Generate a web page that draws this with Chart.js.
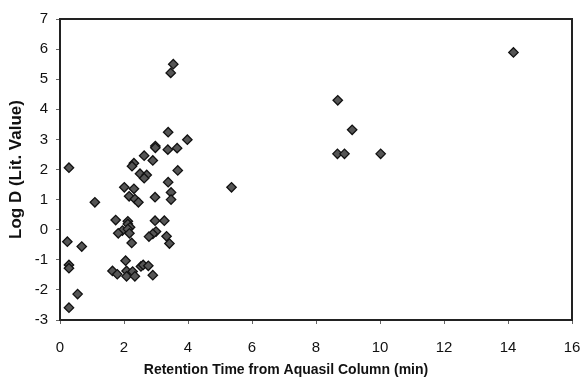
<!DOCTYPE html>
<html>
<head>
<meta charset="utf-8">
<script src="https://cdn.jsdelivr.net/npm/chart.js@4/dist/chart.umd.min.js"></script>
<style>
  body { margin: 0; background: #fff; }
  #wrap { width: 582px; height: 378px; }
</style>
</head>
<body>
<div id="wrap"><canvas id="myChart" width="582" height="378"></canvas></div>
<script>
// retention time (min) vs log D
const retTime = [0.28, 3.54, 3.46, 3.38, 3.98, 2.98, 2.98, 3.37, 3.66, 2.63, 2.90, 2.31, 2.25, 3.68, 2.50,
  2.71, 2.63, 3.38, 2.01, 5.36, 2.31, 3.47, 3.47, 1.09, 2.16, 2.34, 2.45, 2.97, 1.74, 2.12,
  2.12, 2.97, 3.26, 2.19, 1.95, 2.12, 1.82, 2.17, 3.00, 2.90, 2.78, 3.33, 3.42, 2.24, 0.23,
  0.68, 2.05, 0.28, 0.28, 1.64, 1.79, 2.08, 2.08, 2.27, 2.34, 2.53, 2.60, 2.76, 2.90, 0.55,
  0.28, 14.17, 8.68, 9.13, 8.67, 8.89, 10.02]
const logD = [2.06, 5.50, 5.21, 3.24, 2.99, 2.78, 2.72, 2.66, 2.71, 2.46, 2.30, 2.21, 2.11, 1.97, 1.86,
  1.82, 1.71, 1.58, 1.41, 1.41, 1.36, 1.24, 1.00, 0.91, 1.11, 1.02, 0.91, 1.08, 0.32, 0.28,
  0.19, 0.30, 0.30, 0.08, -0.03, 0.02, -0.12, -0.12, -0.06, -0.14, -0.23, -0.22, -0.46, -0.44, -0.40,
  -0.56, -1.03, -1.17, -1.28, -1.37, -1.48, -1.37, -1.55, -1.39, -1.55, -1.22, -1.17, -1.20, -1.51, -2.14,
  -2.59, 5.89, 4.30, 3.32, 2.52, 2.52, 2.52]

const xTitle = "Retention Time from Aquasil Column (min)"
const yTitle = "Log D (Lit. Value)"

const pts = retTime.map((x, i) => ({ x: x, y: logD[i] }))

// box round the plot area
const boxPlugin = {
  id: "box",
  afterDraw(chart) {
    const a = chart.chartArea
    const ctx = chart.ctx
    ctx.save()
    ctx.strokeStyle = "#222"
    ctx.lineWidth = 2
    ctx.strokeRect(a.left, a.top, a.right - a.left, a.bottom - a.top)
    ctx.restore()
  }
}

const fam = "Liberation Sans, Arial, sans-serif"
const tickFont = { family: fam, size: 15 }

new Chart("myChart", {
  type: "scatter",
  data: {
    datasets: [{
      data: pts,
      pointStyle: "rectRot",
      pointRadius: 4.7,
      backgroundColor: "#555",
      borderColor: "#111",
      borderWidth: 1.3
    }]
  },
  options: {
    responsive: false,
    animation: false,
    layout: { padding: { left: 0, right: 10, top: 19, bottom: 0 } },
    plugins: {
      legend: { display: false },
      tooltip: { enabled: false },
      // x title sits centred on the whole picture, not on the plot
      title: {
        display: true, position: "bottom", text: xTitle, color: "#111",
        font: { family: fam, size: 14, weight: "bold", lineHeight: 1 },
        padding: { top: 0, bottom: 0.5 }
      }
    },
    scales: {
      x: {
        min: 0, max: 16,
        afterFit: (s) => { s.height = 43.5; s.paddingLeft = 0; s.paddingRight = 0 },
        ticks: { stepSize: 2, color: "#111", font: tickFont, padding: 15 },
        grid: { drawOnChartArea: false, drawTicks: true, tickLength: 4, color: "#666" },
        border: { color: "#222", width: 2 }
      },
      y: {
        min: -3, max: 7,
        afterFit: (s) => { s.width = 60; s.paddingTop = 0; s.paddingBottom = 0 },
        ticks: { stepSize: 1, color: "#111", font: tickFont, padding: 8 },
        grid: { drawOnChartArea: false, drawTicks: true, tickLength: 4, color: "#666" },
        border: { color: "#222", width: 2 },
        title: { display: true, text: yTitle, color: "#111", font: { family: fam, size: 17, weight: "bold" }, padding: { top: 6, bottom: 0 } }
      }
    }
  },
  plugins: [boxPlugin]
})
</script>
</body>
</html>
